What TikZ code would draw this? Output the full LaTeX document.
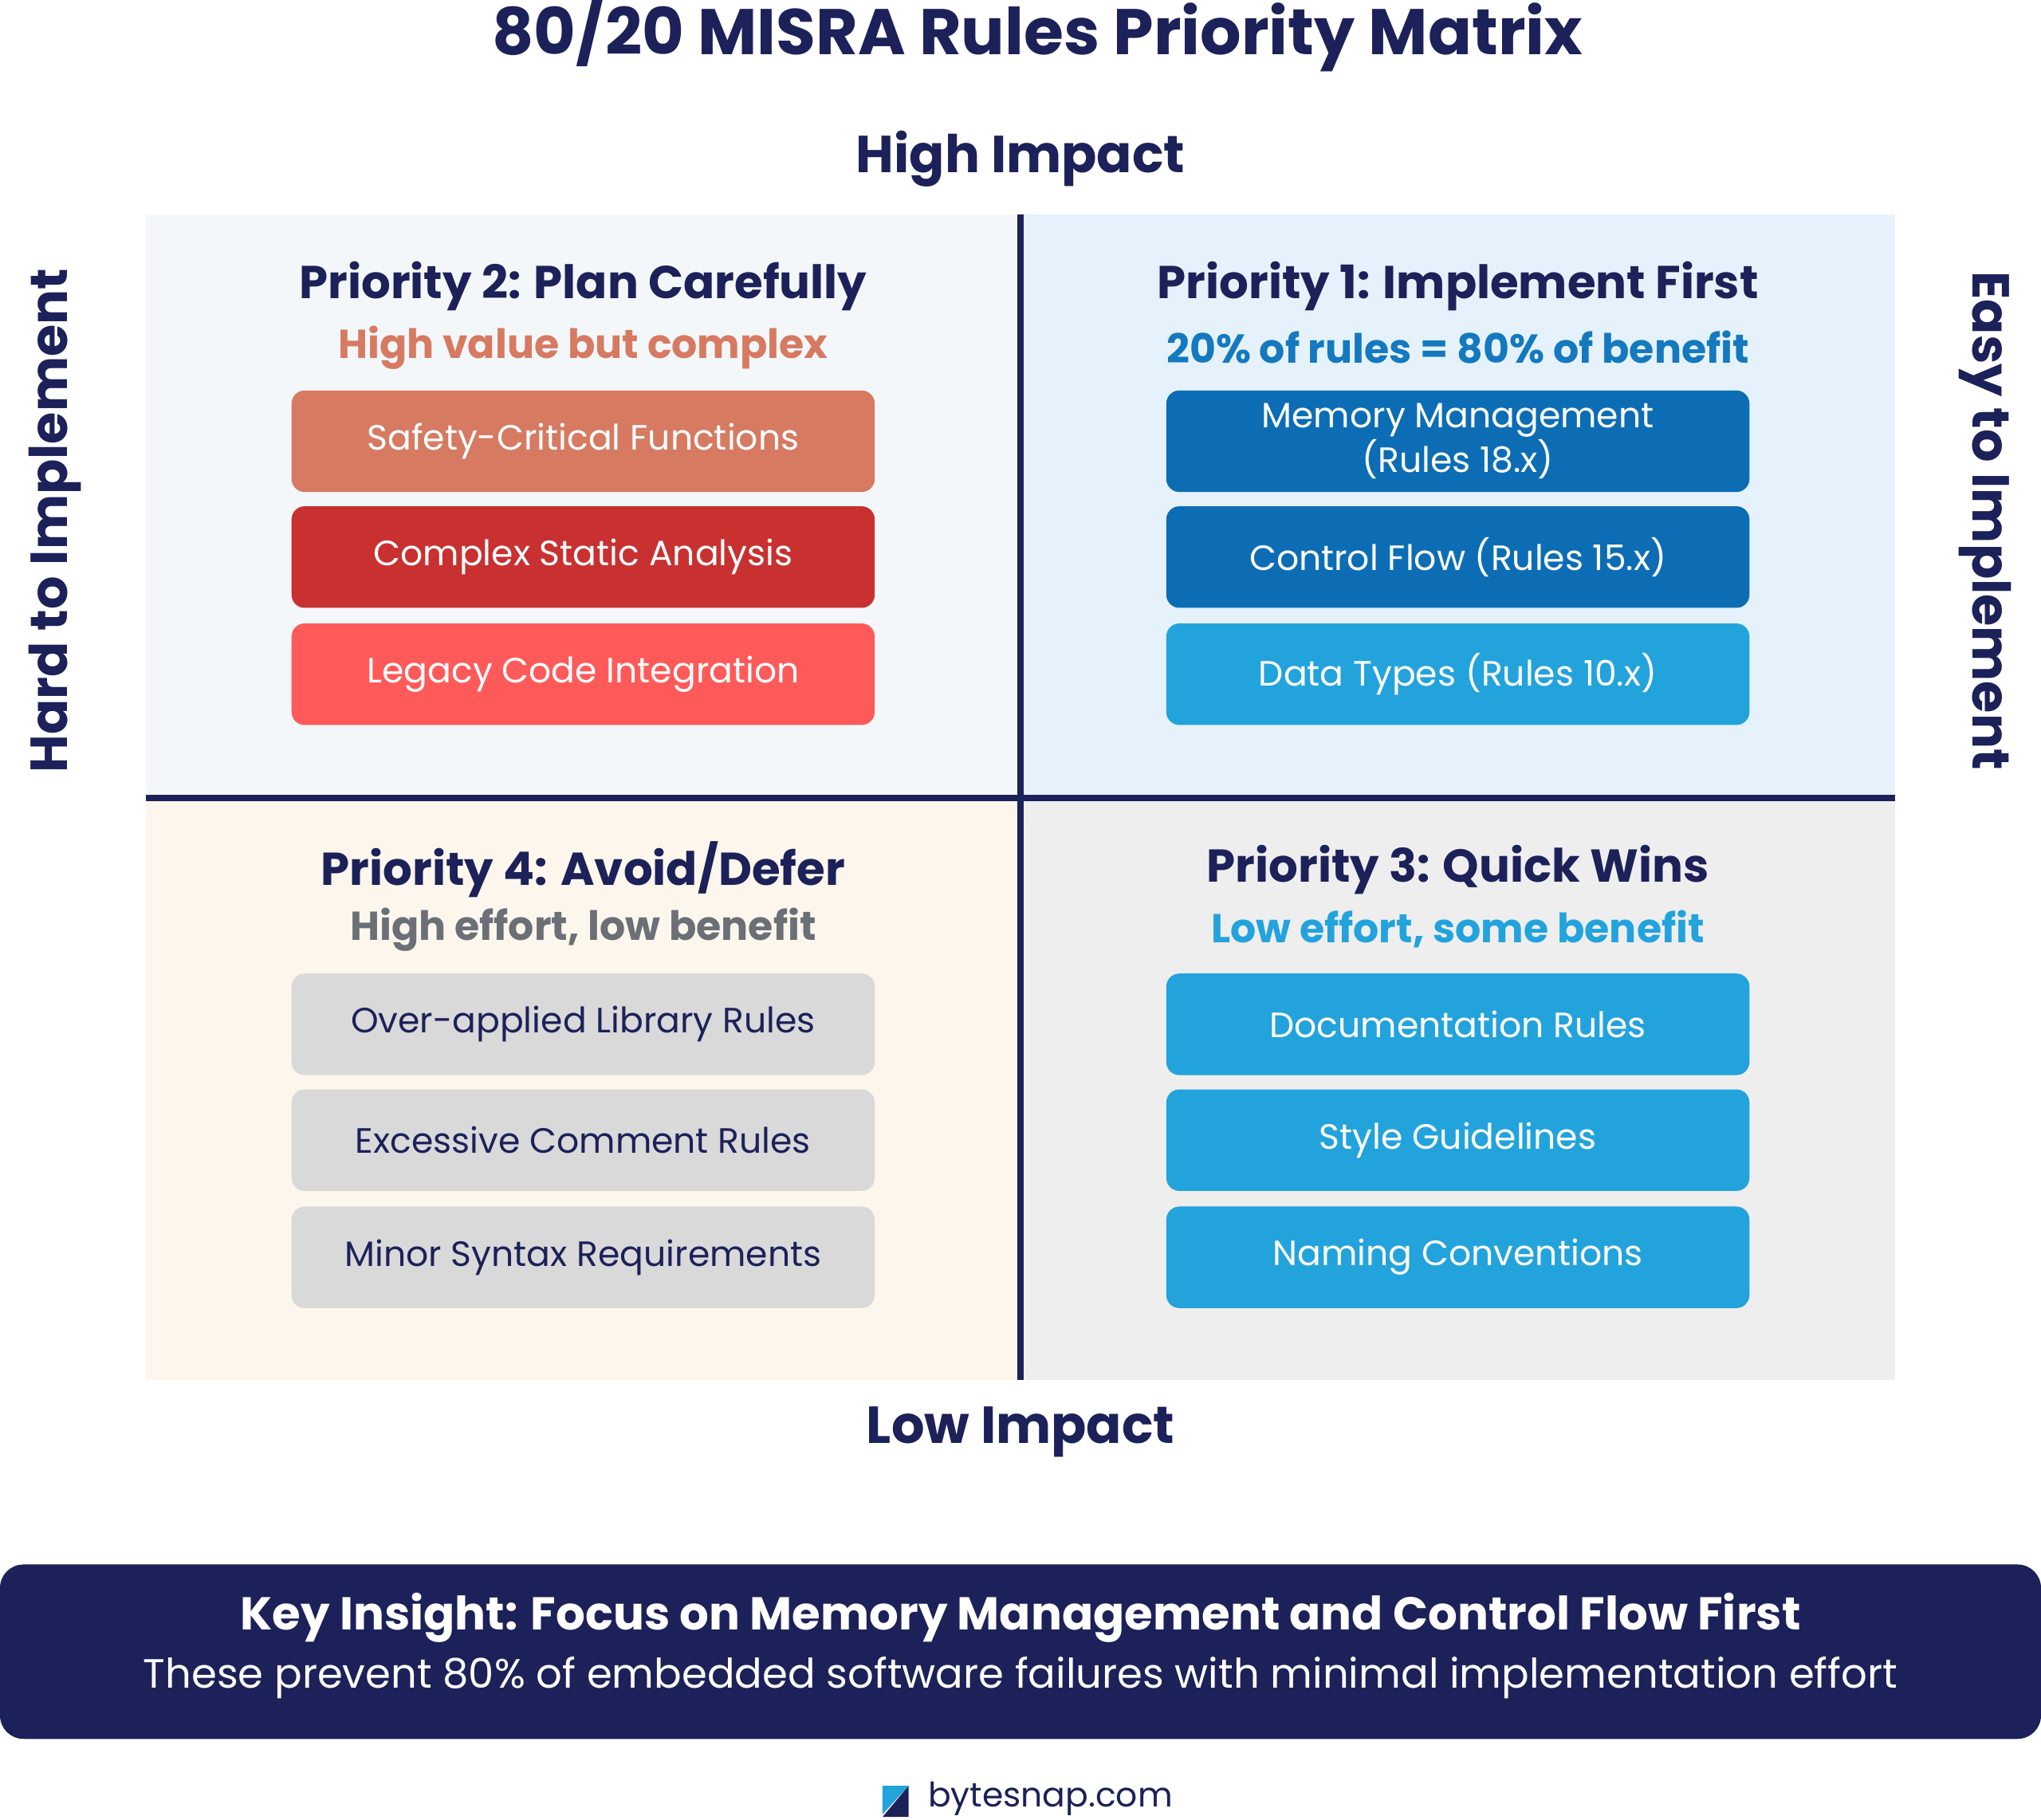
\documentclass[tikz,border=0pt]{standalone}
\usepackage{fontspec}
\setmainfont{Poppins}
\definecolor{navy}{HTML}{1C2159}
\definecolor{tlbg}{HTML}{F4F7FA}
\definecolor{trbg}{HTML}{E5F2FB}
\definecolor{blbg}{HTML}{FDF6EC}
\definecolor{brbg}{HTML}{EEEEEE}
\definecolor{salmon}{HTML}{D67A62}
\definecolor{crimson}{HTML}{C93030}
\definecolor{coral}{HTML}{FF5A5A}
\definecolor{deepblue}{HTML}{0C6DB5}
\definecolor{skyblue}{HTML}{23A3DC}
\definecolor{greybox}{HTML}{D9D9D9}
\definecolor{greytext}{HTML}{6B6F76}
\definecolor{bluetext}{HTML}{1479BF}
\tikzstyle{heading} = [text=navy, font=\fontsize{17.7}{21}\selectfont\bfseries, text centered]
\tikzstyle{subhead} = [font=\fontsize{15.5}{18}\selectfont\bfseries, text centered]
\tikzstyle{axis} = [text=navy, font=\fontsize{20}{24}\selectfont\bfseries, text centered]
\tikzstyle{rule} = [rectangle, rounded corners=5pt, minimum width=224pt, minimum height=39pt, text=white, align=center, font=\fontsize{13.5}{16}\selectfont]
\begin{document}
\begin{tikzpicture}[x=0.5pt, y=-0.5pt]
  \useasboundingbox (0,0) rectangle (1568,1398);
  % quadrants
  \fill[tlbg] (112,165) rectangle (784,613);
  \fill[trbg] (784,165) rectangle (1456,613);
  \fill[blbg] (112,613) rectangle (784,1060);
  \fill[brbg] (784,613) rectangle (1456,1060);
  \draw[navy, line width=2.5pt] (784,165) -- (784,1060);
  \draw[navy, line width=2.5pt] (112,613) -- (1456,613);
  % titles and axes
  \node[text=navy, font=\fontsize{24.8}{29}\selectfont\bfseries] (title) at (797,25) {80/20 MISRA Rules Priority Matrix};
  \node[axis] (high) at (784,122) {High Impact};
  \node[axis] (low) at (784,1100) {Low Impact};
  \node[axis, rotate=90] (hard) at (42,400) {Hard to Implement};
  \node[axis, rotate=-90] (easy) at (1525,400) {Easy to Implement};
  % priority 2
  \node[heading] (p2) at (448,220) {Priority 2: Plan Carefully};
  \node[subhead, text=salmon] (p2sub) at (448,267) {High value but complex};
  \node[rule, fill=salmon] (safety) at (448,339) {Safety-Critical Functions};
  \node[rule, fill=crimson] (complex) at (448,428) {Complex Static Analysis};
  \node[rule, fill=coral] (legacy) at (448,518) {Legacy Code Integration};
  % priority 1
  \node[heading] (p1) at (1120,220) {Priority 1: Implement First};
  \node[subhead, text=bluetext] (p1sub) at (1120,267) {20\% of rules = 80\% of benefit};
  \node[rule, fill=deepblue] (memory) at (1120,339) {Memory Management\\(Rules 18.x)};
  \node[rule, fill=deepblue] (control) at (1120,428) {Control Flow (Rules 15.x)};
  \node[rule, fill=skyblue] (types) at (1120,518) {Data Types (Rules 10.x)};
  % priority 4
  \node[heading] (p4) at (448,668) {Priority 4: Avoid/Defer};
  \node[subhead, text=greytext] (p4sub) at (448,714) {High effort, low benefit};
  \node[rule, fill=greybox, text=navy] (library) at (448,787) {Over-applied Library Rules};
  \node[rule, fill=greybox, text=navy] (comment) at (448,876) {Excessive Comment Rules};
  \node[rule, fill=greybox, text=navy] (syntax) at (448,966) {Minor Syntax Requirements};
  % priority 3
  \node[heading] (p3) at (1120,668) {Priority 3: Quick Wins};
  \node[subhead, text=skyblue] (p3sub) at (1120,714) {Low effort, some benefit};
  \node[rule, fill=skyblue] (docs) at (1120,787) {Documentation Rules};
  \node[rule, fill=skyblue] (style) at (1120,876) {Style Guidelines};
  \node[rule, fill=skyblue] (naming) at (1120,966) {Naming Conventions};
  % key insight
  \fill[navy, rounded corners=9pt] (0,1202) rectangle (1568,1336);
  \node[text=white, font=\fontsize{17.7}{21}\selectfont\bfseries] (insight) at (784,1243) {Key Insight: Focus on Memory Management and Control Flow First};
  \node[text=white, font=\fontsize{15.7}{19}\selectfont] (prevent) at (784,1289) {These prevent 80\% of embedded software failures with minimal implementation effort};
  % footer
  \fill[navy] (678,1396) -- (698,1372) -- (698,1396) -- cycle;
  \fill[skyblue] (678,1372) -- (698,1372) -- (678,1394) -- cycle;
  \node[text=navy, font=\fontsize{13}{15}\selectfont, anchor=west] (site) at (706,1382) {bytesnap.com};
\end{tikzpicture}
\end{document}
